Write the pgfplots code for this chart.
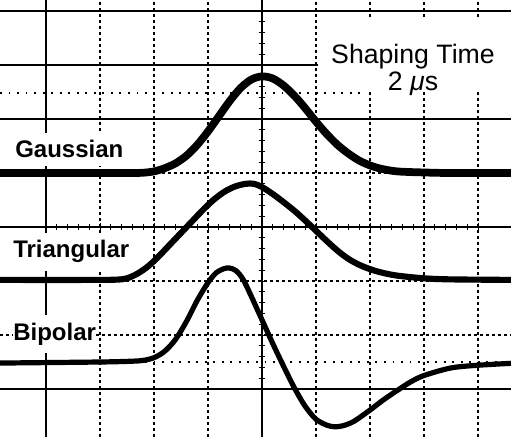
\documentclass[border=0pt]{standalone}
\usepackage{fontspec}
\setmainfont{Liberation Sans}
\usepackage{pgfplots}
\pgfplotsset{compat=1.18}

\begin{document}
\begin{tikzpicture}
\begin{axis}[
  scale only axis, width=383.25pt, height=327.75pt,
  xmin=-4.852, xmax=4.611, ymin=-3.889, ymax=4.204,
  axis lines=middle, axis line style={-, line width=1pt},
  xtick={-4,...,4}, ytick={-3,...,4},
  minor x tick num=4, minor y tick num=4,
  xticklabels={}, yticklabels={},
  tick align=center, major tick length=6pt, minor tick length=5pt,
  tick style={black, line width=0.7pt},
  grid=major,
  major grid style={black, line width=0.8pt, dash pattern=on 2.5pt off 2pt},
]
% solid graticule lines
\draw[line width=1.1pt] (-4,-3.889) -- (-4,4.204);
\pgfplotsinvokeforeach{4,3,2,-3}{
  \draw[line width=1.1pt] (-4.852,#1) -- (4.611,#1);
}
% white patch behind the caption
\fill[white] (1.04,2.54) rectangle (4.611,3.83);
% dotted 10%/90% lines
\draw[line width=1.4pt, dash pattern=on 1.4pt off 5pt] (-4.852,2.48) -- (1.9,2.48);
\draw[line width=1.4pt, dash pattern=on 1.4pt off 5pt] (-4.852,-2.5) -- (4.611,-2.5);

% Gaussian
\addplot[black, line width=5.8pt, smooth] coordinates {
  (-4.9,1.0) (-3,1.0) (-2.4,1.0) (-2.2,1.005) (-2.0,1.03) (-1.8,1.09) (-1.6,1.18)
  (-1.4,1.32) (-1.2,1.52) (-1.0,1.77) (-0.8,2.05) (-0.6,2.33) (-0.4,2.57)
  (-0.2,2.73) (0,2.79) (0.2,2.75) (0.4,2.62) (0.6,2.43) (0.8,2.20) (1.0,1.95)
  (1.2,1.72) (1.4,1.52) (1.6,1.36) (1.8,1.23) (2.0,1.14) (2.2,1.08) (2.5,1.03)
  (3.0,1.01) (3.5,1.0) (4.7,1.0)
};
% Triangular
\addplot[black, line width=4.6pt, smooth] coordinates {
  (-4.9,-0.98) (-3.2,-0.98) (-2.7,-0.975) (-2.5,-0.95) (-2.3,-0.86) (-2.1,-0.72)
  (-1.9,-0.53) (-1.7,-0.32) (-1.5,-0.11) (-1.3,0.10) (-1.1,0.31) (-0.9,0.50)
  (-0.7,0.65) (-0.5,0.75) (-0.3,0.80) (-0.15,0.80) (0.0,0.74) (0.2,0.61)
  (0.4,0.46) (0.6,0.30) (0.8,0.12) (1.0,-0.07) (1.2,-0.26) (1.4,-0.44)
  (1.6,-0.59) (1.8,-0.70) (2.0,-0.78) (2.2,-0.84) (2.5,-0.90) (3.0,-0.95)
  (3.5,-0.97) (4.7,-0.98)
};
% Bipolar
\addplot[black, line width=3.9pt, smooth] coordinates {
  (-4.9,-2.52) (-3.0,-2.50) (-2.4,-2.485) (-2.2,-2.47) (-2.0,-2.42) (-1.8,-2.30)
  (-1.6,-2.08) (-1.4,-1.75) (-1.2,-1.36) (-1.0,-1.03) (-0.85,-0.85)
  (-0.7,-0.77) (-0.6,-0.76) (-0.48,-0.81) (-0.35,-0.97) (-0.2,-1.28)
  (0.0,-1.72) (0.2,-2.16) (0.4,-2.58) (0.6,-2.98) (0.8,-3.32) (1.0,-3.56)
  (1.2,-3.67) (1.35,-3.70) (1.5,-3.68) (1.7,-3.60) (2.0,-3.39) (2.25,-3.20)
  (2.5,-3.03) (2.75,-2.87) (3.0,-2.75) (3.5,-2.61) (4.0,-2.56) (4.7,-2.52)
};

% labels
\node[anchor=base west, fill=white, inner xsep=0pt, inner ysep=6pt,
  font=\fontsize{18}{20}\selectfont\bfseries] at (-4.574,1.278) {Gaussian};
\node[anchor=base west, fill=white, inner xsep=0pt, inner ysep=6pt,
  font=\fontsize{18}{20}\selectfont\bfseries] at (-4.611,-0.574) {Triangular};
\node[anchor=base west, fill=white, inner xsep=0pt, inner ysep=6pt,
  font=\fontsize{18}{20}\selectfont\bfseries] at (-4.611,-2.093) {Bipolar};
\node[anchor=base, font=\fontsize{20}{22}\selectfont] at (2.796,3.037) {Shaping Time};
\node[anchor=base, font=\fontsize{20}{22}\selectfont] at (2.796,2.519) {2 {\itshape μ}s};
\end{axis}
\pgfresetboundingbox
\useasboundingbox (current axis.south west) rectangle (current axis.north east);
\end{tikzpicture}
\end{document}
